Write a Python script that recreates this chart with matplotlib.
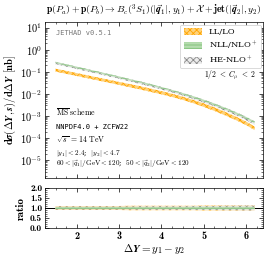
import numpy as np
import matplotlib
matplotlib.use("Agg")
import matplotlib.pyplot as plt
from matplotlib.ticker import FuncFormatter, LogLocator, MultipleLocator, NullFormatter
from matplotlib.patches import Patch

plt.rcParams['mathtext.fontset'] = 'cm'
plt.rcParams['font.family'] = 'serif'
plt.rcParams['font.serif'] = ['DejaVu Serif']
plt.rcParams['hatch.linewidth'] = 0.6

# Delta Y bins
dy = [1.5, 1.75, 2.0, 2.25, 2.5, 2.75, 3.0, 3.25, 3.5, 3.75,
      4.0, 4.25, 4.5, 4.75, 5.0, 5.25, 5.5, 5.75, 6.0, 6.2]

# log10 of central values [nb]
nll_log = [-0.58, -0.69, -0.80, -0.91, -1.02, -1.13, -1.24, -1.36, -1.47, -1.59,
           -1.72, -1.85, -1.99, -2.14, -2.30, -2.47, -2.66, -2.86, -3.08, -3.28]
he_log = [-0.60, -0.71, -0.82, -0.93, -1.04, -1.15, -1.26, -1.38, -1.49, -1.61,
          -1.74, -1.87, -2.01, -2.16, -2.32, -2.49, -2.68, -2.88, -3.10, -3.31]
ll_log = [-0.92, -1.02, -1.12, -1.22, -1.32, -1.42, -1.52, -1.62, -1.72, -1.83,
          -1.94, -2.06, -2.19, -2.34, -2.50, -2.68, -2.88, -3.09, -3.32, -3.55]

# relative band half-widths (scale variation)
ll_err = [0.10, 0.10, 0.10, 0.10, 0.10, 0.10, 0.10, 0.11, 0.11, 0.11,
          0.11, 0.11, 0.11, 0.11, 0.12, 0.12, 0.12, 0.12, 0.12, 0.12]
nll_err = [0.05, 0.05, 0.05, 0.05, 0.05, 0.05, 0.05, 0.05, 0.05, 0.05,
           0.05, 0.05, 0.05, 0.06, 0.06, 0.06, 0.06, 0.06, 0.06, 0.06]
he_err = [0.08, 0.08, 0.08, 0.08, 0.08, 0.08, 0.08, 0.08, 0.09, 0.09,
          0.09, 0.09, 0.09, 0.10, 0.10, 0.10, 0.11, 0.11, 0.12, 0.12]

x = np.array(dy)
style = {
    "LL/LO": ('#ffd27a', '#ffa500', 'xxxxx'),
    "NLL/NLO$^+$": ('#b5dcae', '#7cbf76', '-----'),
    "HE-NLO$^+$": ('#ececec', '#8a8a8a', 'xxxxx'),
}
series = [("LL/LO", ll_log, ll_err), ("NLL/NLO$^+$", nll_log, nll_err), ("HE-NLO$^+$", he_log, he_err)]

fig = plt.figure(figsize=(2.73, 2.59), dpi=100)
ax = fig.add_axes([45/273, 1-178/259, 218/273, 156/259])
axr = fig.add_axes([45/273, 1-228/259, 218/273, 40/259], sharex=ax)

# main panel: band thickness as in the reference (log spread)
for lab, lg, err in [series[0], series[2], series[1]]:
    fc, ec, h = style[lab]
    c = 10**np.array(lg)
    e = np.array(err) * 1.5
    ax.fill_between(x, c*(1-e), c*(1+e), facecolor=fc, edgecolor=ec, hatch=h, linewidth=0,
                    alpha=0.85 if lab.startswith("NLL") else 1)
    axr.fill_between(x, 1-np.array(err), 1+np.array(err), facecolor=fc, edgecolor=ec, hatch=h,
                     linewidth=0, alpha=0.85)

handles = [Patch(facecolor=style[l][0], edgecolor=style[l][1], hatch=style[l][2], linewidth=0, label=l)
           for l, _, _ in series]

ax.set_yscale('log')
ax.set_ylim(10**-5.8, 10**1.25)
ax.set_xlim(1.25, 6.4)
ax.yaxis.set_major_locator(LogLocator(base=10, numticks=10))
ax.yaxis.set_minor_locator(LogLocator(base=10, subs=np.arange(2, 10), numticks=10))
ax.yaxis.set_major_formatter(FuncFormatter(lambda v, p: r'$\mathbf{10^{%d}}$' % round(np.log10(v))))
ax.yaxis.set_minor_formatter(NullFormatter())
plt.setp(ax.get_xticklabels(), visible=False)

axr.set_ylim(0, 2)
axr.yaxis.set_major_locator(MultipleLocator(0.5))
axr.yaxis.set_minor_locator(MultipleLocator(0.1))
axr.yaxis.set_major_formatter(FuncFormatter(lambda v, p: '%.1f' % v))
axr.xaxis.set_major_locator(MultipleLocator(1))
axr.xaxis.set_minor_locator(MultipleLocator(0.25))
axr.xaxis.set_major_formatter(FuncFormatter(lambda v, p: '%d' % round(v)))
axr.axhline(1.0, color='black', lw=0.7, zorder=0.5)

for a in (ax, axr):
    a.tick_params(which='both', direction='in', top=True, right=True, labelsize=7.5, pad=2)
    a.tick_params(which='major', length=3, width=0.5)
    a.tick_params(which='minor', length=1.5, width=0.4)
    for s in a.spines.values():
        s.set_linewidth(0.5)
axr.tick_params(axis='y', labelsize=6.8, pad=2)
for t in axr.get_xticklabels() + axr.get_yticklabels():
    t.set_fontfamily('cmb10')

ax.set_title(r'$\mathbf{p}(\boldsymbol{P_a}) + \mathbf{p}(\boldsymbol{P_b}) \rightarrow \boldsymbol{B_c}(^3\boldsymbol{S_1})(|\vec{\boldsymbol{q}}_1|, \boldsymbol{y_1}) + \boldsymbol{\mathcal{X}} + \mathbf{jet}(|\vec{\boldsymbol{q}}_2|, \boldsymbol{y_2})$',
             fontsize=7, pad=6)
ax.set_ylabel(r'$\mathbf{d}\boldsymbol{\sigma}(\boldsymbol{\Delta Y}, \boldsymbol{s})/\mathbf{d}\boldsymbol{\Delta Y}$ $\mathbf{[nb]}$', fontsize=7.5, labelpad=2)
axr.set_ylabel('ratio', fontsize=8, labelpad=3, family='cmb10')
axr.set_xlabel(r'$\boldsymbol{\Delta Y = y_1 - y_2}$', fontsize=8, labelpad=1)

ax.text(0.05, 0.93, 'JETHAD v0.5.1', transform=ax.transAxes, fontsize=5, family='monospace', color='#777777', va='center')
ax.text(0.97, 0.66, r'$\mathbf{1/2}\ <\ \boldsymbol{C_\mu}\ <\ \mathbf{2}$', transform=ax.transAxes, fontsize=5.5, ha='right', va='center')

info = [
    (r'$\overline{\rm MS}$ $\rm scheme$', None, 5.6),
    ('NNPDF4.0 + ZCFW22', 'monospace', 5),
    (r'$\sqrt{s}$ $= 14$ $\rm TeV$', None, 5.6),
    (r'$|y_1| < 2.4$;  $|y_2| < 4.7$', None, 5.2),
    (r'$60 < |\vec{q}_1|/{\rm GeV} < 120$;  $50 < |\vec{q}_2|/{\rm GeV} < 120$', None, 5.2),
]
ypos = [0.42, 0.33, 0.245, 0.16, 0.09]
for (t, fam, fs), yy in zip(info, ypos):
    kw = {'family': fam} if fam else {}
    ax.text(0.05, yy, t, transform=ax.transAxes, fontsize=fs, va='center', **kw)

leg = ax.legend(handles=handles, loc='upper right', fontsize=6, frameon=True, fancybox=True,
                handlelength=2.2, handleheight=0.9, borderpad=0.4, labelspacing=0.3, framealpha=1,
                edgecolor='#cccccc', borderaxespad=0.3)
leg.get_frame().set_linewidth(0.5)

fig.savefig('out.png', dpi=100)
